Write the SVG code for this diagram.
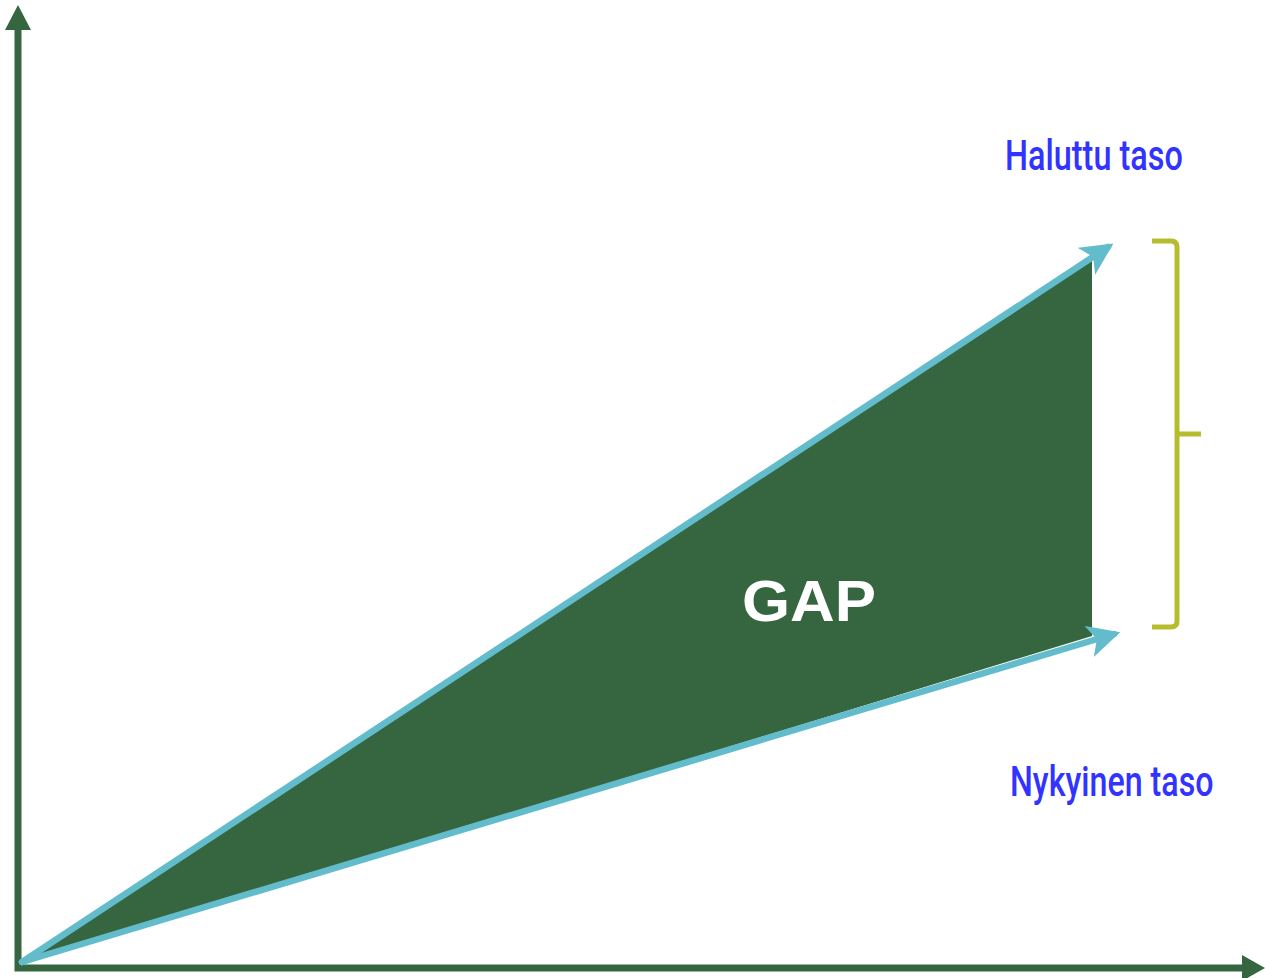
<svg xmlns="http://www.w3.org/2000/svg" width="1265" height="978" viewBox="0 0 1265 978">
  <defs>
    <marker id="cyanHead" viewBox="0 0 10 10" refX="8" refY="5" markerWidth="5" markerHeight="5" markerUnits="strokeWidth" orient="auto">
      <path d="M0,0 L10,5 L0,10 L2.5,5 Z" fill="#63bccb"/>
    </marker>
  </defs>
  <style>
    .axis { stroke: #356640; stroke-width: 7; fill: none; }
    .axis-head { fill: #356640; }
    .trend { stroke: #63bccb; stroke-width: 6.5; fill: none; stroke-linecap: round; marker-end: url(#cyanHead); }
    .brace { stroke: #b5bd2e; stroke-width: 5; fill: none; stroke-linejoin: round; }
    .label { font-family: Roboto, "Liberation Sans", sans-serif; font-weight: 500; font-size: 42px; fill: #3333ff; }
    .gap { font-family: "Liberation Sans", Arial, sans-serif; font-weight: bold; font-size: 58px; fill: #ffffff; }
  </style>
  <rect width="1265" height="978" fill="#ffffff"/>

  <!-- axes -->
  <g id="axes">
    <path class="axis" d="M18,28 V968 H1245"/>
    <polygon class="axis-head" points="18,5 31,30 5,30"/>
    <polygon class="axis-head" points="1265,968 1242,955 1242,981"/>
  </g>

  <!-- gap area between the two trends -->
  <g id="gap-area">
    <polygon points="24,962 1092,258 1092,636" fill="#356640"/>
    <text class="gap" x="809" y="621" text-anchor="middle" textLength="134" lengthAdjust="spacingAndGlyphs">GAP</text>
  </g>

  <!-- trend lines -->
  <g id="connectors">
    <line class="trend" x1="22" y1="962" x2="1108" y2="247"/>
    <line class="trend" x1="22" y1="962" x2="1114" y2="634"/>
  </g>

  <!-- brace spanning the gap -->
  <g id="brace">
    <path class="brace" d="M1152,241 H1171 Q1177,241 1177,247 V621 Q1177,627 1171,627 H1152"/>
    <path class="brace" d="M1177,434 H1201"/>
  </g>

  <!-- condensed labels: horizontally squeezed -->
  <g id="label-target" transform="translate(1005,170) scale(0.78,1)">
    <text class="label" x="0" y="0" textLength="228" lengthAdjust="spacingAndGlyphs">Haluttu taso</text>
  </g>
  <g id="label-current" transform="translate(1010,796) scale(0.78,1)">
    <text class="label" x="0" y="0" textLength="261" lengthAdjust="spacingAndGlyphs">Nykyinen taso</text>
  </g>
</svg>
